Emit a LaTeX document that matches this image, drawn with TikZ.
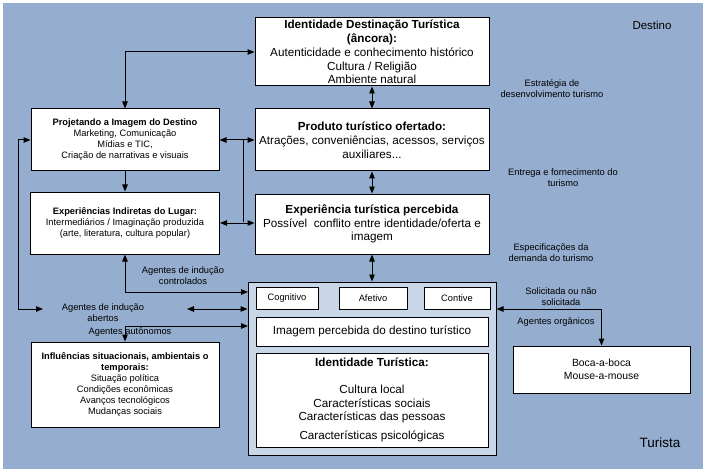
\documentclass[tikz,border=0pt]{standalone}
\usepackage{fontspec}
\setmainfont{Liberation Sans}
\usetikzlibrary{positioning,arrows.meta}
\definecolor{bgblue}{RGB}{149,173,206}
\definecolor{innerblue}{RGB}{201,214,232}

\begin{document}
\begin{tikzpicture}[x=1pt,y=1pt,
  big/.style={font=\fontsize{11.7}{13.8}\selectfont},
  small/.style={font=\fontsize{9.3}{11}\selectfont},
  box/.style={draw, fill=white, line width=1pt, align=center, inner sep=0pt},
  lbl/.style={small, align=center, inner sep=0pt},
  link/.style={line width=1pt, {Triangle[length=7pt,width=5.5pt]}-{Triangle[length=7pt,width=5.5pt]}},
  fwd/.style={line width=1pt, -{Triangle[length=7pt,width=5.5pt]}}]
\useasboundingbox (0,0) rectangle (706,-473);
\fill[bgblue] (3,-3) rectangle (703,-469);

\node[box, big, minimum width=234pt, minimum height=68pt] (ident) at (372,-52) {\textbf{Identidade Destinação Turística}\\\textbf{(âncora):}\\Autenticidade e conhecimento histórico\\Cultura / Religião\\Ambiente natural};
\node[box, big, minimum width=234pt, minimum height=62pt, below=22pt of ident] (prod) {\textbf{Produto turístico ofertado:}\\Atrações, conveniências, acessos, serviços\\auxiliares...};
\node[box, big, minimum width=234pt, minimum height=60pt, below=22pt of prod] (expper) {\textbf{Experiência turística percebida}\\Possível\ \ conflito entre identidade/oferta e\\imagem};
\node[draw, fill=innerblue, line width=1pt, minimum width=248pt, minimum height=173pt, inner sep=0pt, below=27pt of expper] (tur) {};

\node[box, small, minimum width=62pt, minimum height=22pt] (cog) at (287,-298) {Cognitivo};
\node[box, small, minimum width=68pt, minimum height=22pt, right=20pt of cog] (afe) {Afetivo};
\node[box, small, minimum width=66pt, minimum height=22pt, right=16pt of afe] (con) {Contive};
\node[box, big, minimum width=232pt, minimum height=29pt] (imgp) at (372,-331.5) {Imagem percebida do destino turístico};
\node[box, big, minimum width=232pt, minimum height=94pt, below=6pt of imgp] (idt) {\textbf{Identidade Turística:}\\[13pt]Cultura local\\Características sociais\\Características das pessoas\\[5pt]Características psicológicas};

\node[box, small, minimum width=188pt, minimum height=62pt] (proj) at (125,-140) {\textbf{Projetando a Imagem do Destino}\\Marketing, Comunicação\\Mídias e TIC,\\Criação de narrativas e visuais};
\node[box, small, minimum width=189pt, minimum height=62pt, below=20pt of proj] (expind) {\textbf{Experiências Indiretas do Lugar:}\\Intermediários / Imaginação produzida\\(arte, literatura, cultura popular)};
\node[box, small, minimum width=188pt, minimum height=85pt] (infl) at (125,-384.5) {\textbf{Influências situacionais, ambientais o}\\\textbf{temporais:}\\Situação política\\Condições econômicas\\Avanços tecnológicos\\Mudanças sociais};
\node[box, font=\fontsize{10.4}{13}\selectfont, minimum width=177pt, minimum height=47pt] (boca) at (601.5,-369.5) {Boca-a-boca\\Mouse-a-mouse};

\node[lbl] (estr) at (552,-89) {Estratégia de\\desenvolvimento turismo};
\node[lbl] (entr) at (563,-177.5) {Entrega e fornecimento do\\turismo};
\node[lbl] (espec) at (551,-252.5) {Especificações da\\demanda do turismo};
\node[lbl] (solic) at (561,-297) {Solicitada ou não\\solicitada};
\node[lbl] (organ) at (556,-322) {Agentes orgânicos};
\node[lbl] (contr) at (183,-275.5) {Agentes de indução\\controlados};
\node[lbl] (abert) at (103,-312.5) {Agentes de indução\\abertos};
\node[font=\fontsize{11.5}{13}\selectfont] (dest) at (652,-25) {Destino};
\node[font=\fontsize{13.5}{15}\selectfont] (turlbl) at (660,-443) {Turista};

\coordinate (ja) at (243,-140);
\coordinate (jb) at (243,-222);
\coordinate (lft) at (18,-140);
\coordinate (abW) at (43,-309);
\coordinate (abE) at (187,-309);
\coordinate (ctl) at (248,-292);
\coordinate (aut) at (248,-326);

\draw[link] (proj.north) |- (ident.west);
\draw[fwd] (proj.south) -- (expind.north);
\draw[link] (proj.east) -- (prod.west |- proj.east);
\draw[link] (expind.east) -- (expper.west |- expind.east);
\draw[line width=1pt] (ja) -- (jb);
\draw[link] (ident) -- (prod);
\draw[link] (prod) -- (expper);
\draw[link] (expper) -- (tur);
\draw[link] (expind.south) |- (ctl);
\draw[link] (abE) -- (tur.west |- abE);
\draw[link] (abW) -| (lft) -- (proj.west);
\draw[link] (infl.north) |- (aut);
\node[lbl] (auton) at (130,-332) {Agentes autônomos};
\draw[link] (tur.east |- 0,-309) -| (boca.north);
\end{tikzpicture}
\end{document}
